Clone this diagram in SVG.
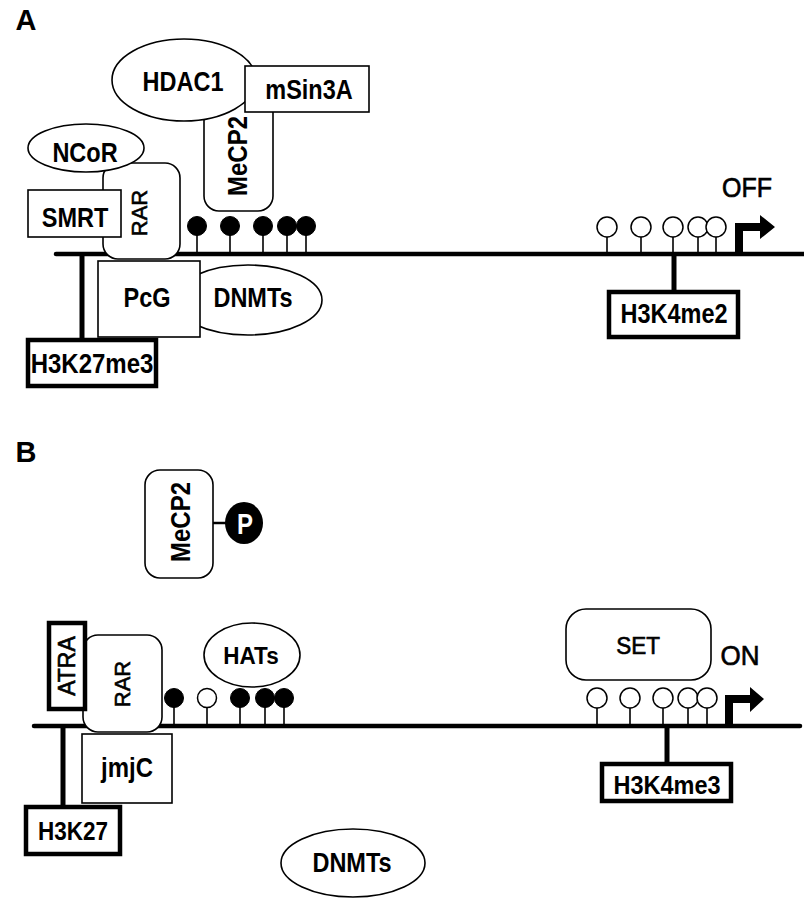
<svg xmlns="http://www.w3.org/2000/svg" width="804" height="899" viewBox="0 0 804 899">
<style>
  .bg{fill:#fff}
  .thin{fill:#fff;stroke:#000;stroke-width:1.6}
  .thick{fill:#fff;stroke:#000;stroke-width:4.5}
  .dna{stroke:#000;stroke-width:4.5;fill:none;stroke-linecap:round}
  .bar{stroke:#000;stroke-width:5;fill:none}
  .stem{stroke:#000;stroke-width:1.6;fill:none}
  .me{fill:#000;stroke:#000;stroke-width:1}
  .un{fill:#fff;stroke:#000;stroke-width:1.5}
  .lb{font-family:"Liberation Sans",Arial,sans-serif;font-weight:bold;font-size:23.5px;text-anchor:middle;fill:#000}
  .lr{font-family:"Liberation Sans",Arial,sans-serif;font-weight:normal;font-size:22px;text-anchor:middle;fill:#000;stroke:#000;stroke-width:0.6}
  .panel{font-family:"Liberation Sans",Arial,sans-serif;font-weight:bold;font-size:29px;text-anchor:middle;fill:#000}
</style>
<rect class="bg" x="0" y="0" width="804" height="899"/>

<text class="panel" x="26" y="30">A</text>
<text class="panel" x="26" y="462">B</text>

<g id="connectors">
  <line class="dna" x1="56" y1="254" x2="804" y2="254"/>
  <line class="bar" x1="82" y1="254" x2="82" y2="338"/>
  <line class="bar" x1="674" y1="254" x2="674" y2="290"/>
  <line class="dna" x1="34" y1="726" x2="800" y2="726"/>
  <line class="bar" x1="63" y1="726" x2="63" y2="805"/>
  <line class="bar" x1="667" y1="726" x2="667" y2="762"/>
  <line x1="213" y1="523" x2="227" y2="523" stroke="#000" stroke-width="2.5"/>
</g>

<g id="cpg-A-promoter">
  <line class="stem" x1="197" y1="226" x2="197" y2="254"/><circle class="me" cx="197" cy="226" r="9.5"/>
  <line class="stem" x1="230" y1="226" x2="230" y2="254"/><circle class="me" cx="230" cy="226" r="9.5"/>
  <line class="stem" x1="263" y1="226" x2="263" y2="254"/><circle class="me" cx="263" cy="226" r="9.5"/>
  <line class="stem" x1="287" y1="226" x2="287" y2="254"/><circle class="me" cx="287" cy="226" r="9.5"/>
  <line class="stem" x1="306" y1="226" x2="306" y2="254"/><circle class="me" cx="306" cy="226" r="9.5"/>
</g>
<g id="cpg-A-gene">
  <line class="stem" x1="607" y1="237" x2="607" y2="254"/><circle class="un" cx="607" cy="227" r="10"/>
  <line class="stem" x1="641" y1="237" x2="641" y2="254"/><circle class="un" cx="641" cy="227" r="10"/>
  <line class="stem" x1="673" y1="237" x2="673" y2="254"/><circle class="un" cx="673" cy="227" r="10"/>
  <line class="stem" x1="698" y1="237" x2="698" y2="254"/><circle class="un" cx="698" cy="227" r="10"/>
  <line class="stem" x1="716" y1="237" x2="716" y2="254"/><circle class="un" cx="716" cy="227" r="10"/>
</g>
<g id="tss-A">
  <path d="M735,254 V223 H760 V215 L775,227 L760,239 V231 H743 V254 Z" fill="#000"/>
  <text class="lr" style="font-size:25px" transform="translate(747,197) scale(1,1.1)">OFF</text>
</g>

<g id="RAR-A">
  <rect class="thin" x="103" y="163" width="77" height="96" rx="15"/>
  <text class="lr" transform="translate(147,213) rotate(-90)">RAR</text>
</g>
<g id="NCoR">
  <ellipse class="thin" cx="86" cy="148" rx="58" ry="24"/>
  <text class="lb" transform="translate(85,162) scale(1,1.17)">NCoR</text>
</g>
<g id="SMRT">
  <rect class="thin" x="28" y="190" width="93" height="47"/>
  <text class="lb" transform="translate(75,227) scale(1,1.17)">SMRT</text>
</g>
<g id="MeCP2-A">
  <rect class="thin" x="204" y="98" width="69" height="113" rx="15"/>
  <text class="lb" style="font-size:24px" transform="translate(247,156) rotate(-90) scale(1,1.15)">MeCP2</text>
</g>
<g id="HDAC1">
  <ellipse class="thin" cx="184" cy="80" rx="72" ry="41"/>
  <text class="lb" transform="translate(183,91) scale(1,1.17)">HDAC1</text>
</g>
<g id="mSin3A">
  <rect class="thin" x="245" y="66" width="124" height="46"/>
  <text class="lb" transform="translate(309,99) scale(1,1.17)">mSin3A</text>
</g>
<g id="DNMTs-A">
  <ellipse class="thin" cx="248" cy="300" rx="74" ry="35"/>
  <text class="lb" transform="translate(253,307) scale(1,1.17)">DNMTs</text>
</g>
<g id="PcG">
  <rect class="thin" x="98" y="261" width="102" height="76"/>
  <text class="lb" transform="translate(147,307) scale(1,1.17)">PcG</text>
</g>
<g id="H3K27me3">
  <rect class="thick" x="28" y="340" width="128" height="46"/>
  <text class="lb" style="font-size:24px" transform="translate(92,373) scale(1,1.17)">H3K27me3</text>
</g>
<g id="H3K4me2">
  <rect class="thick" x="609" y="292" width="129" height="45"/>
  <text class="lb" transform="translate(674,323) scale(1,1.17)">H3K4me2</text>
</g>

<g id="MeCP2-P">
  <rect class="thin" x="145" y="470" width="68" height="108" rx="15"/>
  <text class="lb" style="font-size:24px" transform="translate(190,522) rotate(-90) scale(1,1.15)">MeCP2</text>
</g>
<g id="P">
  <ellipse cx="244" cy="523" rx="19" ry="21" fill="#000"/>
  <text class="lb" style="font-size:24px;fill:#fff" transform="translate(245,534) scale(1,1.2)">P</text>
</g>

<g id="cpg-B-promoter">
  <line class="stem" x1="174" y1="698" x2="174" y2="726"/><circle class="me" cx="174" cy="698" r="9.5"/>
  <line class="stem" x1="207" y1="708" x2="207" y2="726"/><circle class="un" cx="207" cy="698" r="9.5"/>
  <line class="stem" x1="240" y1="698" x2="240" y2="726"/><circle class="me" cx="240" cy="698" r="9.5"/>
  <line class="stem" x1="265" y1="698" x2="265" y2="726"/><circle class="me" cx="265" cy="698" r="9.5"/>
  <line class="stem" x1="284" y1="698" x2="284" y2="726"/><circle class="me" cx="284" cy="698" r="9.5"/>
</g>
<g id="cpg-B-gene">
  <line class="stem" x1="597" y1="708" x2="597" y2="726"/><circle class="un" cx="597" cy="698" r="10"/>
  <line class="stem" x1="630" y1="708" x2="630" y2="726"/><circle class="un" cx="630" cy="698" r="10"/>
  <line class="stem" x1="663" y1="708" x2="663" y2="726"/><circle class="un" cx="663" cy="698" r="10"/>
  <line class="stem" x1="688" y1="708" x2="688" y2="726"/><circle class="un" cx="688" cy="698" r="10"/>
  <line class="stem" x1="707" y1="708" x2="707" y2="726"/><circle class="un" cx="707" cy="698" r="10"/>
</g>
<g id="tss-B">
  <path d="M725,726 V695 H750 V687 L764,699 L750,712 V703 H733 V726 Z" fill="#000"/>
  <text class="lr" style="font-size:26px" transform="translate(740,665) scale(1,1.07)">ON</text>
</g>

<g id="RAR-B">
  <rect class="thin" x="83" y="635" width="79" height="97" rx="15"/>
  <text class="lr" transform="translate(130,684) rotate(-90)">RAR</text>
</g>
<g id="ATRA">
  <rect class="thick" x="49" y="623" width="36" height="86"/>
  <text class="lr" style="font-size:23px" transform="translate(75,666) rotate(-90)">ATRA</text>
</g>
<g id="jmjC">
  <rect class="thin" x="82" y="734" width="90" height="69"/>
  <text class="lb" style="font-size:24px" transform="translate(127,777) scale(1,1.12)">jmjC</text>
</g>
<g id="H3K27">
  <rect class="thick" x="26" y="807" width="94" height="47"/>
  <text class="lb" style="font-size:22.5px" transform="translate(73,840) scale(1,1.17)">H3K27</text>
</g>
<g id="HATs">
  <ellipse class="thin" cx="252" cy="655" rx="48" ry="32"/>
  <text class="lb" style="font-size:22.5px" transform="translate(251,664) scale(1,1.1)">HATs</text>
</g>
<g id="SET">
  <rect class="thin" x="566" y="609" width="145" height="71" rx="20"/>
  <text class="lr" style="font-size:22.5px" transform="translate(638,654) scale(1,1.1)">SET</text>
</g>
<g id="H3K4me3">
  <rect class="thick" x="602" y="764" width="129" height="37"/>
  <text class="lb" transform="translate(667,794) scale(1,1.1)">H3K4me3</text>
</g>
<g id="DNMTs-B">
  <ellipse class="thin" cx="353" cy="863" rx="72" ry="34"/>
  <text class="lb" transform="translate(352,872) scale(1,1.17)">DNMTs</text>
</g>
</svg>
